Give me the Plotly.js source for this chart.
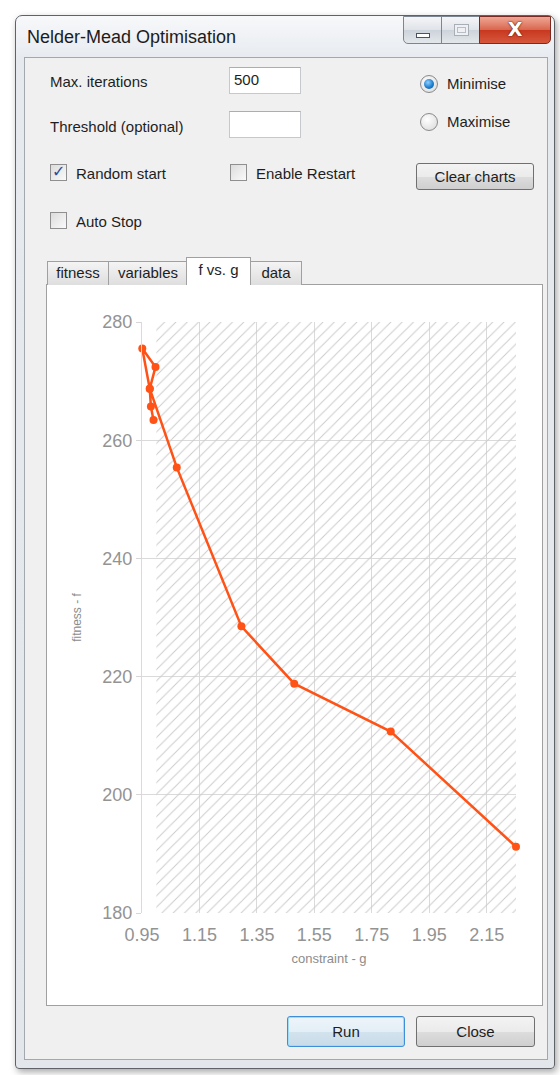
<!DOCTYPE html>
<html><head><meta charset="utf-8">
<script src="https://cdn.plot.ly/plotly-3.0.1.min.js"></script>
<style>
html,body{margin:0;padding:0;width:560px;height:1075px;background:#fff;overflow:hidden;font-family:"Liberation Sans",Arial,sans-serif;color:#1e1e1e;}
.a{position:absolute;box-sizing:border-box;}
#win{left:15px;top:15px;width:540px;height:1054px;border:1px solid #5f6368;border-radius:7px 7px 4px 4px;background:linear-gradient(#f7f8fa,#e6eaef 45px,#e3e7ec);box-shadow:2px 3px 7px rgba(0,0,0,0.35);}
#client{left:24px;top:57px;width:524px;height:1003px;border:1px solid #a3a8ae;background:#f0f0f0;}
.title{left:27px;top:27px;font-size:18px;color:#1c1c1c;}
.wb{top:16px;height:28px;border:1px solid #7d8590;background:linear-gradient(#f4f5f7,#dfe3e8 50%,#cdd3da 51%,#e3e7ec);}
.lbl{font-size:15px;color:#1e1e1e;white-space:nowrap;}
.tb{background:#fff;border:1px solid #c5c8cc;border-top-color:#abadb3;font-size:15px;padding:3px 0 0 4px;}
.chk{width:17px;height:17px;border:1px solid #8f8f8f;background:linear-gradient(135deg,#dcdcdc,#fafafa);}
.rad{width:18px;height:18px;border:1px solid #8a8a8a;border-radius:50%;background:radial-gradient(circle at 40% 35%,#ffffff,#e3e3e3 70%,#cfcfcf);}
.btn{border:1px solid #707070;border-radius:3px;background:linear-gradient(#f3f3f3,#ebebeb 50%,#dddddd 51%,#cfcfcf);font-size:15px;text-align:center;}
.tab{top:261px;height:24px;border:1px solid #a0a0a0;border-bottom:none;background:linear-gradient(#f4f4f4,#dedede);font-size:15px;text-align:center;line-height:22px;}
</style></head>
<body>
<div class="a" id="win"></div>
<div class="a title">Nelder-Mead Optimisation</div>
<div class="a wb" style="left:403px;width:39px;border-radius:0 0 0 5px;"><div class="a" style="left:12px;top:16px;width:14px;height:5px;border:1px solid #4a5260;background:#fff;"></div></div>
<div class="a wb" style="left:441px;width:39px;"><div class="a" style="left:12px;top:7px;width:15px;height:12px;border:1px solid #a8aeb6;background:#eef0f3;"><div class="a" style="left:2px;top:2px;width:9px;height:6px;border:1px solid #b8bec6;"></div></div></div>
<div class="a" style="left:479px;top:16px;width:72px;height:28px;border:1px solid #7a2a20;border-radius:0 0 5px 0;background:linear-gradient(#efa694,#d9664e 50%,#c7381f 51%,#d6583d);"></div>
<div class="a" style="left:479px;top:15px;width:72px;height:28px;text-align:center;font:bold 19px 'DejaVu Sans',sans-serif;color:#fff;line-height:28px;text-shadow:0 0 2px #5a1a10,0 0 1px #5a1a10;">X</div>
<div class="a" id="client"></div>

<div class="a lbl" style="left:50px;top:73px;">Max. iterations</div>
<div class="a tb" style="left:229px;top:67px;width:72px;height:27px;">500</div>
<div class="a lbl" style="left:50px;top:118px;">Threshold (optional)</div>
<div class="a tb" style="left:229px;top:111px;width:72px;height:27px;"></div>

<div class="a rad" style="left:420px;top:75px;"><div class="a" style="left:3px;top:3px;width:10px;height:10px;border-radius:50%;background:radial-gradient(circle at 40% 35%,#8fd0ff,#1f7fcf 55%,#0b4a86);"></div></div>
<div class="a lbl" style="left:447px;top:75px;">Minimise</div>
<div class="a rad" style="left:420px;top:113px;"></div>
<div class="a lbl" style="left:447px;top:113px;">Maximise</div>

<div class="a chk" style="left:50px;top:164px;"><div class="a" style="left:1px;top:-3px;font:16px 'DejaVu Sans',sans-serif;color:#2a4f9a;">✓</div></div>
<div class="a lbl" style="left:76px;top:165px;">Random start</div>
<div class="a chk" style="left:230px;top:164px;"></div>
<div class="a lbl" style="left:256px;top:165px;">Enable Restart</div>
<div class="a btn" style="left:416px;top:163px;width:118px;height:27px;line-height:25px;">Clear charts</div>
<div class="a chk" style="left:50px;top:212px;"></div>
<div class="a lbl" style="left:76px;top:213px;">Auto Stop</div>

<div class="a" style="left:46px;top:284px;width:497px;height:722px;border:1px solid #a0a0a0;background:#fff;"></div>
<div class="a tab" style="left:47px;width:62px;">fitness</div>
<div class="a tab" style="left:108px;width:80px;">variables</div>
<div class="a tab" style="left:250px;width:52px;">data</div>
<div class="a tab" style="left:186px;top:257px;width:65px;height:29px;background:#fff;line-height:24px;">f vs. g</div>

<div class="a" id="chart" style="left:47px;top:285px;width:495px;height:720px;"></div>

<div class="a" style="left:287px;top:1016px;width:118px;height:31px;border:1px solid #3c8fd8;border-radius:3px;box-shadow:inset 0 0 0 1px #9fdcf7;background:linear-gradient(#eef5fa,#e3eef6 50%,#d3e3ee 51%,#c8dbe8);font-size:15px;text-align:center;line-height:29px;">Run</div>
<div class="a btn" style="left:416px;top:1016px;width:119px;height:31px;line-height:29px;">Close</div>

<script>
// data (constraint g, fitness f), in drawing order
var gValues = [0.990, 0.981, 0.977, 0.951, 0.997, 0.977, 1.071, 1.296, 1.480, 1.816, 2.252];
var fValues = [263.4, 265.7, 268.7, 275.5, 272.4, 268.7, 255.4, 228.5, 218.8, 210.7, 191.2];
var feasibleLimit = 1.0;          // constraint boundary (hatched region g >= 1)
var xRange = [0.95, 2.252];
var yRange = [180, 280];
var xTicks = [0.95, 1.15, 1.35, 1.55, 1.75, 1.95, 2.15];
var yTicks = [180, 200, 220, 240, 260, 280];

var hatch = {
  x: [feasibleLimit, xRange[1], xRange[1], feasibleLimit, feasibleLimit],
  y: [yRange[0], yRange[0], yRange[1], yRange[1], yRange[0]],
  type: 'scatter', mode: 'lines', fill: 'toself',
  line: {width: 0, color: 'rgba(0,0,0,0)'},
  fillcolor: 'rgba(0,0,0,0)',
  fillpattern: {shape: '/', fgcolor: '#cbcbcb', bgcolor: 'rgba(0,0,0,0)', size: 8, solidity: 0.12},
  hoverinfo: 'skip', showlegend: false
};
var series = {
  x: gValues, y: fValues, type: 'scatter', mode: 'lines+markers',
  line: {color: '#ff5216', width: 2.5},
  marker: {color: '#ff5216', size: 8},
  cliponaxis: false,
  showlegend: false
};
var tickFont = {family: 'Liberation Sans, Arial, sans-serif', size: 18, color: '#939393'};
var layout = {
  width: 495, height: 720,
  margin: {l: 95, r: 26, t: 37, b: 92},
  paper_bgcolor: '#ffffff', plot_bgcolor: '#ffffff',
  showlegend: false,
  xaxis: {
    range: xRange, tickmode: 'array', tickvals: xTicks, ticktext: xTicks.map(function(v){return v.toFixed(2);}),
    showgrid: true, gridcolor: '#dadada', gridwidth: 1, zeroline: false, showline: false,
    ticks: 'outside', ticklen: 5, tickcolor: 'rgba(0,0,0,0)',
    tickfont: tickFont, automargin: false,
    title: {text: 'constraint - g', font: {family: 'Liberation Sans, Arial, sans-serif', size: 13, color: '#8c8c8c'}, standoff: 10}
  },
  yaxis: {
    range: yRange, tickmode: 'array', tickvals: yTicks,
    showgrid: true, gridcolor: '#dadada', gridwidth: 1, zeroline: false,
    showline: true, linecolor: '#dadada', linewidth: 1,
    ticks: 'outside', ticklen: 5, tickcolor: '#d6d6d6',
    tickfont: tickFont, automargin: false,
    title: {text: 'fitness - f', font: {family: 'Liberation Sans, Arial, sans-serif', size: 12, color: '#8c8c8c'}, standoff: 18}
  }
};
Plotly.newPlot('chart', [hatch, series], layout, {displayModeBar: false, staticPlot: true});
</script>
</body></html>
